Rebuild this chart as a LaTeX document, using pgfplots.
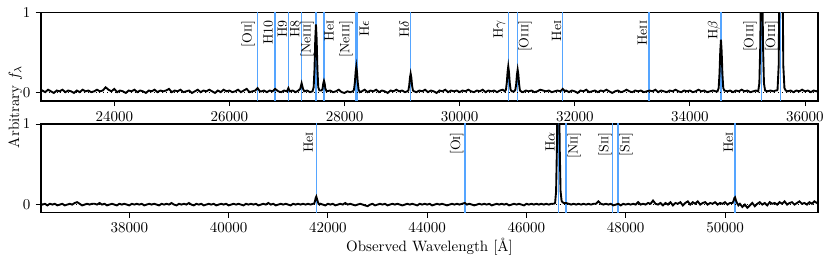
\documentclass[border=0pt]{standalone}
\usepackage{pgfplots}
\usepackage{pgfplotstable}
\pgfplotsset{compat=1.18}
\definecolor{linecol}{RGB}{85,165,255}

\pgfplotstableread[row sep=\\]{
lam f\\
22727 0.02\\ 22750 0.03\\ 22800 0.01\\ 22850 0.04\\ 22900 0.02\\ 22950 0.00\\ 23000 0.03\\ 23050 0.02\\ 23100 0.04\\ 23150 0.01\\
23200 0.03\\ 23250 0.02\\ 23300 0.00\\ 23350 0.03\\ 23400 0.01\\ 23450 0.04\\ 23500 0.02\\ 23550 0.03\\ 23600 0.01\\ 23650 0.02\\
23700 0.04\\ 23750 0.02\\ 23800 0.03\\ 23850 0.07\\ 23900 0.04\\ 23950 0.02\\ 24000 0.05\\ 24050 0.01\\ 24100 0.03\\ 24150 0.02\\
24200 0.00\\ 24250 0.03\\ 24300 0.02\\ 24350 0.04\\ 24400 0.01\\ 24450 0.03\\ 24500 0.02\\ 24550 0.00\\ 24600 0.03\\ 24650 0.02\\
24700 0.04\\ 24750 0.01\\ 24800 0.03\\ 24850 0.02\\ 24900 0.03\\ 24950 0.05\\ 25000 0.01\\ 25050 0.03\\ 25100 0.02\\ 25150 0.04\\
25200 0.01\\ 25250 0.02\\ 25300 0.03\\ 25350 0.00\\ 25400 0.02\\ 25450 0.04\\ 25500 0.01\\ 25550 0.03\\ 25600 0.02\\ 25650 0.04\\
25700 0.02\\ 25750 0.00\\ 25800 0.03\\ 25850 0.01\\ 25900 0.04\\ 25950 0.02\\ 26000 0.03\\ 26050 0.01\\ 26100 0.02\\ 26150 0.04\\
26200 0.01\\ 26250 0.03\\ 26300 0.05\\ 26350 0.01\\ 26400 0.02\\ 26450 0.03\\ 26490 0.06\\ 26530 0.02\\ 26560 0.02\\ 26600 0.03\\
26650 0.01\\ 26700 0.03\\ 26750 0.02\\ 26795 0.05\\ 26850 0.02\\ 26900 0.01\\ 26950 0.03\\ 27000 0.02\\ 27025 0.06\\ 27050 0.02\\
27100 0.03\\ 27150 0.01\\ 27200 0.03\\ 27230 0.05\\ 27255 0.12\\ 27280 0.05\\ 27300 0.02\\ 27350 0.03\\ 27400 0.01\\ 27444 0.02\\
27464 0.07\\ 27479 0.30\\ 27492 0.67\\ 27504 0.85\\ 27516 0.67\\ 27529 0.30\\ 27544 0.07\\ 27564 0.03\\ 27600 0.03\\ 27618 0.05\\
27631 0.12\\ 27643 0.15\\ 27655 0.12\\ 27668 0.05\\ 27690 0.02\\ 27750 0.03\\ 27800 0.01\\ 27850 0.02\\ 27900 0.04\\ 27950 0.01\\
28000 0.00\\ 28050 0.02\\ 28100 0.01\\ 28145 0.02\\ 28165 0.04\\ 28180 0.13\\ 28193 0.26\\ 28205 0.33\\ 28217 0.26\\ 28230 0.13\\
28245 0.04\\ 28265 0.01\\ 28300 0.02\\ 28350 0.04\\ 28400 0.01\\ 28450 0.03\\ 28500 0.02\\ 28550 0.04\\ 28600 0.01\\ 28650 0.03\\
28700 0.02\\ 28750 0.00\\ 28800 0.03\\ 28850 0.02\\ 28900 0.04\\ 28950 0.02\\ 29000 0.03\\ 29050 0.01\\ 29089 0.02\\ 29109 0.03\\
29124 0.09\\ 29137 0.19\\ 29149 0.24\\ 29161 0.19\\ 29174 0.09\\ 29189 0.03\\ 29209 0.02\\ 29250 0.01\\ 29300 0.03\\ 29350 0.02\\
29400 0.04\\ 29450 0.01\\ 29500 0.03\\ 29550 0.02\\ 29600 0.00\\ 29650 0.03\\ 29700 0.02\\ 29750 0.04\\ 29800 0.01\\ 29850 0.03\\
29900 0.02\\ 29950 0.03\\ 30000 0.01\\ 30050 0.03\\ 30100 0.02\\ 30150 0.04\\ 30200 0.02\\ 30250 0.01\\ 30300 0.03\\ 30350 0.02\\
30400 0.04\\ 30450 0.01\\ 30500 0.03\\ 30550 0.02\\ 30600 0.03\\ 30650 0.01\\ 30700 0.03\\ 30750 0.04\\ 30785 0.02\\ 30805 0.04\\
30820 0.13\\ 30833 0.26\\ 30845 0.33\\ 30857 0.26\\ 30870 0.13\\ 30885 0.04\\ 30910 0.02\\ 30930 0.02\\ 30948 0.02\\ 30968 0.04\\
30983 0.11\\ 30996 0.23\\ 31008 0.29\\ 31020 0.23\\ 31033 0.11\\ 31048 0.03\\ 31068 0.02\\ 31100 0.01\\ 31150 0.03\\ 31200 0.02\\
31250 0.03\\ 31300 0.01\\ 31350 0.02\\ 31400 0.04\\ 31450 0.03\\ 31500 0.02\\ 31550 0.03\\ 31600 0.01\\ 31650 0.02\\ 31700 0.03\\
31750 0.02\\ 31790 0.05\\ 31830 0.02\\ 31850 0.03\\ 31900 0.01\\ 31950 0.03\\ 32000 0.02\\ 32050 0.00\\ 32100 0.03\\ 32150 0.02\\
32200 0.04\\ 32250 0.01\\ 32300 0.02\\ 32350 0.03\\ 32400 0.01\\ 32450 0.03\\ 32500 0.02\\ 32550 0.04\\ 32600 0.02\\ 32650 0.00\\
32700 0.02\\ 32750 0.03\\ 32800 0.01\\ 32850 0.02\\ 32900 0.04\\ 32950 0.02\\ 33000 0.01\\ 33050 0.03\\ 33100 0.02\\ 33150 0.03\\
33200 0.01\\ 33250 0.02\\ 33300 0.03\\ 33350 0.02\\ 33400 0.04\\ 33450 0.01\\ 33500 0.03\\ 33550 0.02\\ 33600 0.01\\ 33650 0.03\\
33700 0.02\\ 33750 0.04\\ 33800 0.02\\ 33850 0.01\\ 33900 0.03\\ 33950 0.02\\ 34000 0.03\\ 34050 0.01\\ 34100 0.02\\ 34150 0.04\\
34200 0.02\\ 34250 0.03\\ 34300 0.01\\ 34350 0.02\\ 34400 0.03\\ 34450 0.02\\ 34480 0.02\\ 34500 0.06\\ 34515 0.24\\ 34528 0.52\\
34540 0.66\\ 34552 0.52\\ 34565 0.24\\ 34580 0.06\\ 34600 0.03\\ 34650 0.02\\ 34700 0.03\\ 34750 0.01\\ 34800 0.03\\ 34850 0.02\\
34900 0.04\\ 34950 0.02\\ 35000 0.03\\ 35050 0.01\\ 35100 0.02\\ 35150 0.03\\ 35187 0.02\\ 35207 0.12\\ 35222 0.56\\ 35235 1.27\\
35247 1.62\\ 35259 1.27\\ 35272 0.56\\ 35287 0.12\\ 35307 0.03\\ 35350 0.02\\ 35400 0.03\\ 35450 0.02\\ 35490 0.03\\ 35510 0.03\\
35523 0.04\\ 35543 0.34\\ 35558 1.72\\ 35571 3.90\\ 35583 5.00\\ 35595 3.90\\ 35608 1.72\\ 35623 0.34\\ 35643 0.06\\ 35665 0.03\\
35700 0.02\\ 35750 0.03\\ 35800 0.01\\ 35850 0.03\\ 35900 0.02\\ 35950 0.04\\ 36000 0.02\\ 36050 0.03\\ 36100 0.01\\ 36150 0.03\\
36200 0.02\\ 36226 0.03\\
}\topspec

\pgfplotstableread[row sep=\\]{
lam f\\
36221 0.01\\ 36250 0.00\\ 36300 0.01\\ 36350 -0.01\\ 36400 0.01\\ 36450 0.00\\ 36500 0.01\\ 36550 -0.01\\ 36600 0.00\\ 36650 0.01\\
36700 -0.01\\ 36750 0.00\\ 36800 0.01\\ 36850 0.00\\ 36900 0.02\\ 36950 0.03\\ 37000 0.01\\ 37050 -0.01\\ 37100 0.00\\ 37150 0.01\\
37200 0.00\\ 37250 0.01\\ 37300 0.01\\ 37350 0.00\\ 37400 0.02\\ 37450 0.00\\ 37500 0.01\\ 37550 -0.01\\ 37600 0.00\\ 37650 0.01\\
37700 0.00\\ 37750 -0.01\\ 37800 0.01\\ 37850 0.00\\ 37900 0.01\\ 37950 0.00\\ 38000 -0.01\\ 38050 0.01\\ 38100 0.00\\ 38150 0.01\\
38200 0.00\\ 38250 0.01\\ 38300 -0.01\\ 38350 0.00\\ 38400 0.01\\ 38450 0.00\\ 38500 0.01\\ 38550 0.00\\ 38600 -0.01\\ 38650 0.01\\
38700 0.00\\ 38750 0.01\\ 38800 0.00\\ 38850 0.02\\ 38900 0.00\\ 38950 -0.01\\ 39000 0.01\\ 39050 0.00\\ 39100 0.01\\ 39150 0.00\\
39200 0.02\\ 39250 0.00\\ 39300 -0.01\\ 39350 0.01\\ 39400 0.00\\ 39450 0.01\\ 39500 -0.01\\ 39550 0.00\\ 39600 0.01\\ 39650 0.00\\
39700 0.01\\ 39750 -0.01\\ 39800 0.00\\ 39850 0.01\\ 39900 0.00\\ 39950 0.01\\ 40000 -0.01\\ 40050 0.00\\ 40100 0.01\\ 40150 0.00\\
40200 0.01\\ 40250 0.00\\ 40300 -0.01\\ 40350 0.01\\ 40400 0.00\\ 40450 0.01\\ 40500 0.00\\ 40550 0.01\\ 40600 -0.01\\ 40650 0.00\\
40700 0.01\\ 40750 0.00\\ 40800 0.02\\ 40850 0.00\\ 40900 0.01\\ 40950 -0.01\\ 41000 0.00\\ 41050 0.01\\ 41100 0.00\\ 41150 0.01\\
41200 0.00\\ 41250 -0.01\\ 41300 0.01\\ 41350 0.00\\ 41400 0.01\\ 41450 0.00\\ 41500 0.01\\ 41550 0.00\\ 41600 0.01\\ 41650 0.00\\
41700 0.01\\ 41722 0.01\\ 41739 0.04\\ 41753 0.08\\ 41767 0.10\\ 41781 0.07\\ 41795 0.04\\ 41812 0.01\\ 41832 0.00\\ 41850 0.01\\
41900 0.00\\ 41950 -0.01\\ 42000 0.01\\ 42050 0.00\\ 42100 0.01\\ 42150 -0.01\\ 42200 0.00\\ 42250 0.01\\ 42300 0.00\\ 42350 0.02\\
42400 0.00\\ 42450 0.01\\ 42500 0.00\\ 42550 -0.01\\ 42600 0.00\\ 42650 0.01\\ 42700 0.00\\ 42750 -0.01\\ 42800 -0.02\\ 42850 0.00\\
42900 0.01\\ 42950 -0.01\\ 43000 0.00\\ 43050 0.01\\ 43100 0.00\\ 43150 0.01\\ 43200 -0.01\\ 43250 0.00\\ 43300 0.01\\ 43350 0.00\\
43400 0.01\\ 43450 0.00\\ 43500 -0.01\\ 43550 0.00\\ 43600 0.01\\ 43650 0.00\\ 43700 0.01\\ 43750 0.00\\ 43800 -0.01\\ 43850 0.01\\
43900 0.00\\ 43950 0.01\\ 44000 0.00\\ 44050 0.01\\ 44100 -0.01\\ 44150 0.00\\ 44200 0.01\\ 44250 0.00\\ 44300 0.01\\ 44350 0.00\\
44400 -0.01\\ 44450 0.00\\ 44500 0.01\\ 44550 0.00\\ 44600 0.01\\ 44650 0.00\\ 44700 0.01\\ 44760 0.02\\ 44800 0.00\\ 44850 0.01\\
44900 0.00\\ 44950 -0.01\\ 45000 0.00\\ 45050 0.01\\ 45100 0.00\\ 45150 0.01\\ 45200 0.00\\ 45250 0.01\\ 45300 -0.01\\ 45350 0.00\\
45400 0.01\\ 45450 0.00\\ 45500 0.01\\ 45550 0.00\\ 45600 0.01\\ 45650 -0.01\\ 45700 0.00\\ 45750 0.01\\ 45800 0.00\\ 45850 0.01\\
45900 0.00\\ 45950 -0.01\\ 46000 0.01\\ 46050 0.00\\ 46100 0.01\\ 46150 0.00\\ 46200 0.01\\ 46250 0.00\\ 46300 0.01\\ 46350 0.00\\
46400 0.01\\ 46450 0.00\\ 46500 0.01\\ 46550 0.01\\ 46577 0.02\\ 46597 0.16\\ 46614 0.72\\ 46628 1.50\\ 46642 1.92\\ 46656 1.50\\
46670 0.72\\ 46687 0.17\\ 46707 0.05\\ 46725 0.03\\ 46750 0.02\\ 46797 0.02\\ 46850 0.01\\ 46900 0.00\\ 46950 0.01\\ 47000 0.00\\
47050 0.01\\ 47100 0.00\\ 47150 0.01\\ 47200 0.00\\ 47250 0.01\\ 47300 0.00\\ 47350 0.01\\ 47400 0.01\\ 47450 0.04\\ 47500 0.01\\
47550 0.00\\ 47600 0.01\\ 47650 0.00\\ 47700 0.01\\ 47750 -0.01\\ 47800 0.00\\ 47850 0.01\\ 47900 -0.01\\ 47950 0.01\\ 48000 0.00\\
48050 0.01\\ 48100 0.00\\ 48150 0.01\\ 48200 0.00\\ 48250 0.03\\ 48300 0.00\\ 48350 0.01\\ 48400 0.00\\ 48450 0.02\\ 48500 0.01\\
48550 0.05\\ 48600 0.01\\ 48650 0.00\\ 48700 0.02\\ 48750 -0.01\\ 48800 0.02\\ 48850 0.00\\ 48900 0.03\\ 48950 -0.01\\ 49000 0.02\\
49050 0.01\\ 49100 0.03\\ 49150 -0.01\\ 49200 0.02\\ 49250 0.04\\ 49300 0.00\\ 49350 0.03\\ 49400 0.01\\ 49450 0.04\\ 49500 0.00\\
49550 0.02\\ 49600 0.03\\ 49650 0.00\\ 49700 0.02\\ 49750 0.01\\ 49800 0.03\\ 49850 0.00\\ 49900 0.02\\ 49950 0.01\\ 50000 0.03\\
50050 0.00\\ 50100 0.02\\ 50150 0.02\\ 50174 0.05\\ 50188 0.08\\ 50202 0.09\\ 50216 0.06\\ 50233 0.03\\ 50270 -0.01\\ 50300 0.01\\
50350 -0.03\\ 50400 0.00\\ 50450 -0.04\\ 50500 -0.01\\ 50550 0.02\\ 50600 -0.02\\ 50650 0.01\\ 50700 0.03\\ 50750 0.00\\ 50800 0.02\\
50850 -0.01\\ 50900 0.03\\ 50950 0.01\\ 51000 0.02\\ 51050 0.00\\ 51100 0.03\\ 51150 0.01\\ 51200 0.04\\ 51250 0.00\\ 51300 0.02\\
51350 0.03\\ 51400 0.00\\ 51450 0.02\\ 51500 0.04\\ 51550 0.01\\ 51600 0.02\\ 51650 0.00\\ 51700 0.03\\ 51750 0.01\\ 51800 0.04\\
51850 0.02\\ 51873 0.03\\
}\botspec

\pgfplotsset{
  specax/.style={
    scale only axis, width=518pt, height=59.1pt,
    ymin=-0.1, ymax=1, ytick={0,1},
    xtick pos=bottom, ytick pos=left,
    tick align=outside, major tick length=3.5pt,
    tick style={black, line width=0.6pt},
    axis line style={line width=1.1pt},
    scaled x ticks=false,
    xticklabel style={/pgf/number format/1000 sep={}},
  },
  vline/.style={linecol, line width=0.8pt, forget plot},
}
\tikzset{lab/.style={rotate=90, anchor=east, inner sep=1pt, font=\small}}

\begin{document}
\begin{tikzpicture}
\path[use as bounding box] (-27.33pt,-107.33pt) rectangle (526.67pt,67.33pt);

\begin{axis}[specax, at={(0pt,0pt)}, anchor=south west,
  xmin=22727, xmax=36226, xtick={24000,26000,...,36000}]
  \pgfplotsinvokeforeach{26484,26792,27023,27256,27504,27643,28199,28222,29149,30845,31008,31790,33289,34540,35247,35577}{
    \addplot[vline] coordinates {(#1,-0.2) (#1,1.2)};
  }
  \addplot[black, dotted, line width=0.6pt] coordinates {(22727,0) (36226,0)};
  \addplot[black, line width=1.25pt] table[x=lam, y=f] {\topspec};
  \node[lab] at (axis cs:26328,0.92) {[O\textsc{ii}]};
  \node[lab] at (axis cs:26675,0.92) {H10};
  \node[lab] at (axis cs:26919,0.92) {H9};
  \node[lab] at (axis cs:27139,0.92) {H8};
  \node[lab] at (axis cs:27353,0.92) {[Ne\textsc{iii}]};
  \node[lab] at (axis cs:27730,0.92) {He\textsc{i}};
  \node[lab] at (axis cs:28025,0.92) {[Ne\textsc{iii}]};
  \node[lab] at (axis cs:28343,0.92) {H$\epsilon$};
  \node[lab] at (axis cs:29038,0.92) {H$\delta$};
  \node[lab] at (axis cs:30689,0.92) {H$\gamma$};
  \node[lab] at (axis cs:31135,0.92) {[O\textsc{iii}]};
  \node[lab] at (axis cs:31686,0.92) {He\textsc{i}};
  \node[lab] at (axis cs:33173,0.92) {He\textsc{ii}};
  \node[lab] at (axis cs:34419,0.92) {H$\beta$};
  \node[lab] at (axis cs:35044,0.92) {[O\textsc{iii}]};
  \node[lab] at (axis cs:35421,0.92) {[O\textsc{iii}]};
\end{axis}

\begin{axis}[specax, at={(0pt,-15.33pt)}, anchor=north west,
  xmin=36221, xmax=51873, xtick={38000,40000,...,50000},
  xlabel={Observed Wavelength [\AA]}, xlabel style={yshift=3.3pt}]
  \pgfplotsinvokeforeach{41767,44763,46642,46797,47738,47845,50202}{
    \addplot[vline] coordinates {(#1,-0.2) (#1,1.2)};
  }
  \addplot[black, dotted, line width=0.6pt] coordinates {(36221,0) (51873,0)};
  \addplot[black, line width=1.25pt] table[x=lam, y=f] {\botspec};
  \node[lab] at (axis cs:41606,0.92) {He\textsc{i}};
  \node[lab] at (axis cs:44595,0.92) {[O\textsc{i}]};
  \node[lab] at (axis cs:46475,0.92) {H$\alpha$};
  \node[lab] at (axis cs:46964,0.92) {[N\textsc{ii}]};
  \node[lab] at (axis cs:47583,0.92) {[S\textsc{ii}]};
  \node[lab] at (axis cs:48006,0.92) {[S\textsc{ii}]};
  \node[lab] at (axis cs:50067,0.92) {He\textsc{i}};
\end{axis}

\node[rotate=90, anchor=base, inner sep=0pt] at (-14.5pt,-3.8pt) {Arbitrary $f_\lambda$};
\end{tikzpicture}
\end{document}
